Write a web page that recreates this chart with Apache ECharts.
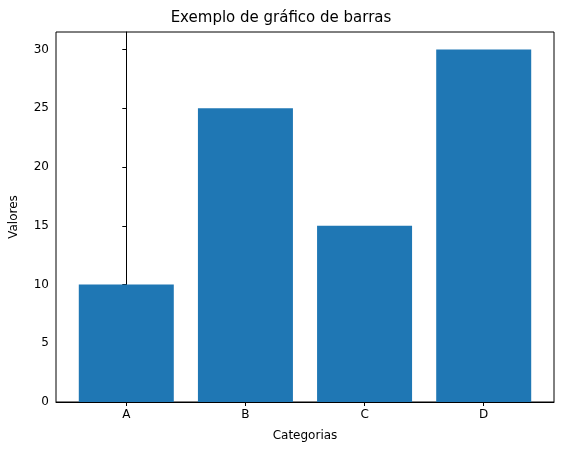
<!DOCTYPE html>
<html><head><meta charset="utf-8">
<script src="https://cdn.jsdelivr.net/npm/echarts@6/dist/echarts.min.js"></script>
<style>html,body{margin:0;padding:0;background:#fff}#c{width:562px;height:455px}</style>
</head><body><div id="c"></div>
<script>
const categories = ['A','B','C','D'];
const values = [10,25,15,30];
const yTicks = [0,5,10,15,20,25,30];
const chart = echarts.init(document.getElementById('c'));
const font = 'DejaVu Sans';
chart.setOption({
  animation:false,
  title:{text:'Exemplo de gráfico de barras',left:'center',top:6,textStyle:{fontFamily:font,fontSize:15,fontWeight:'normal',color:'#000'}},
  grid:{left:56,right:8,top:32,bottom:53,show:true,borderColor:'#000',borderWidth:1},
  xAxis:{type:'value',min:-0.59,max:3.59,name:'Categorias',nameLocation:'middle',nameGap:28,
    nameTextStyle:{fontFamily:font,fontSize:12,color:'#000'},
    axisLine:{show:true,lineStyle:{color:'#000'}},
    axisTick:{show:true,length:4,lineStyle:{color:'#000'},customValues:categories.map((c,i)=>i)},
    axisLabel:{fontFamily:font,fontSize:12,color:'#000',margin:7,customValues:categories.map((c,i)=>i),formatter:v=>categories[Math.round(v)]},
    splitLine:{show:false}},
  yAxis:{type:'value',min:0,max:31.5,name:'Valores',nameLocation:'middle',nameGap:36,
    nameTextStyle:{fontFamily:font,fontSize:12,color:'#000'},
    axisLine:{show:true,lineStyle:{color:'#000'}},
    axisTick:{show:true,length:4,lineStyle:{color:'#000'},customValues:yTicks},
    axisLabel:{fontFamily:font,fontSize:12,color:'#000',margin:7,customValues:yTicks},
    splitLine:{show:false}},
  series:[{type:'bar',barWidth:95,itemStyle:{color:'#1f77b4'},data:values.map((v,i)=>[i,v])}]
});
</script></body></html>
